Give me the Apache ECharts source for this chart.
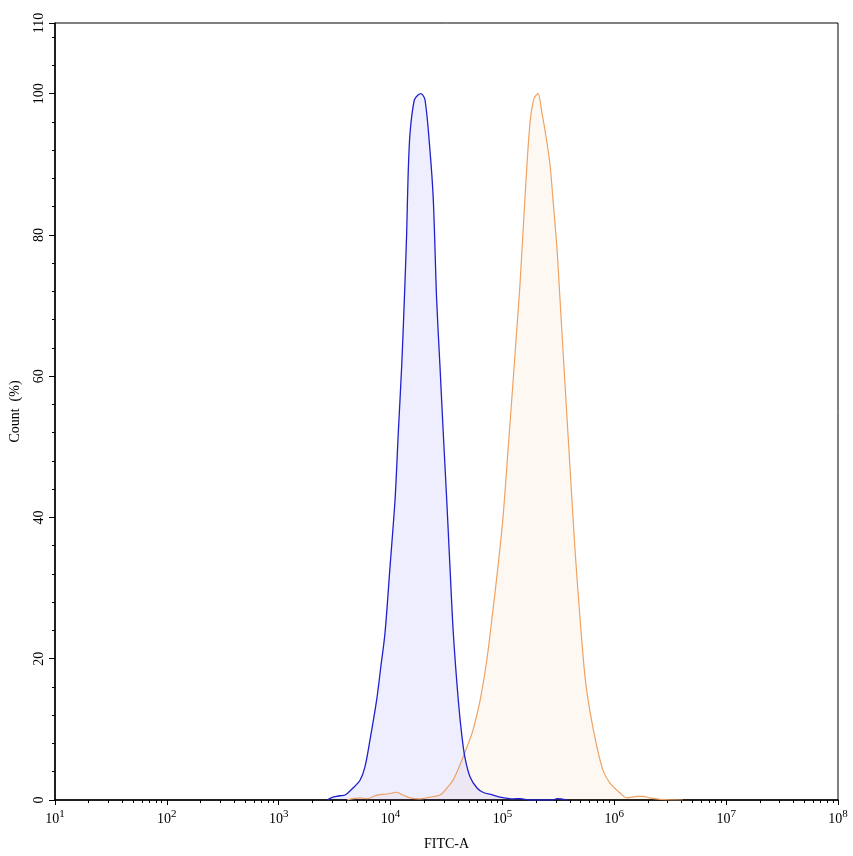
<!DOCTYPE html>
<html>
<head>
<meta charset="utf-8">
<title>FITC-A</title>
<script src="https://cdn.jsdelivr.net/npm/echarts@6/dist/echarts.min.js"></script>
<style>
html,body{margin:0;padding:0;background:#fff;}
#chart{width:853px;height:856px;}
</style>
</head>
<body>
<div id="chart"></div>
<script>
// log10(FITC-A) positions and count (%)
var blueX = [3.432,3.485,3.548,3.593,3.664,3.727,3.771,3.816,3.876,3.914,3.950,3.995,4.040,4.069,4.099,4.123,4.144,4.156,4.174,4.212,4.245,4.272,4.308,4.352,4.382,4.412,4.442,4.471,4.502,4.531,4.561,4.605,4.638,4.665,4.710,4.773,4.826,4.916,4.978,5.094,5.157,5.246,5.336,5.452,5.488,5.577];
var blueY = [0,0.4,0.6,0.7,1.7,2.8,4.7,8.5,14.2,19,23.6,33,42.5,52,61.3,70.8,80.3,88,94.4,99.1,99.8,100,99.1,92,85,70.8,61.3,52,42.5,33,23.6,14.2,9,6,3.3,1.7,1.1,0.7,0.4,0.15,0.2,0,0,0,0.2,0];

var orangeX = [3.610,3.664,3.727,3.789,3.879,3.968,4.057,4.111,4.174,4.263,4.352,4.442,4.504,4.558,4.621,4.683,4.737,4.799,4.862,4.916,4.960,5.005,5.050,5.094,5.121,5.157,5.202,5.246,5.282,5.318,5.354,5.389,5.425,5.452,5.488,5.515,5.559,5.604,5.649,5.693,5.738,5.783,5.845,5.899,5.962,6.051,6.114,6.203,6.257,6.319,6.409,6.614];
var orangeY = [0,0.2,0.3,0.2,0.7,0.85,1.1,0.7,0.3,0.15,0.4,0.7,1.7,2.8,5,7.5,9.9,14,20,27,33,40,49.5,59,65,73,85.4,95.8,99.3,100,97.2,94,90,85,78,70.8,59,47.1,35.4,25.9,17.5,12.5,7.5,4.2,2.4,1,0.3,0.5,0.5,0.3,0.1,0];

var xTickExp = [1,2,3,4,5,6,7,8];
var yTickLabels = [0,20,40,60,80,100,110];

function pairs(xs, ys){
	var out = [];
	for (var i = 0; i < xs.length; i++) out.push([xs[i], ys[i]]);
	return out;
}

// minor ticks: 2..9 inside every decade, and every 4 % on the count axis
var xMinor = [];
for (var d = 1; d < 8; d++) {
	for (var k = 2; k <= 9; k++) xMinor.push(d + Math.log10(k));
}
var yMinor = [];
for (var v = 4; v < 110; v += 4) {
	if (v % 20 !== 0) yMinor.push(v);
}

var myChart = echarts.init(document.getElementById('chart'));
var serif = 'Liberation Serif';

var option = {
	backgroundColor: '#fff',
	animation: false,
	grid: {
		left: 55, right: 15, top: 23, bottom: 56,
		show: true, borderColor: '#000', borderWidth: 1,
		containLabel: false,
		outerBoundsMode: 'none'
	},
	xAxis: [{
		type: 'value', min: 1, max: 8,
		name: 'FITC-A', nameLocation: 'middle', nameGap: 37,
		nameTextStyle: { fontFamily: serif, fontSize: 14, color: '#000' },
		axisLine: { lineStyle: { color: '#000', width: 1.5 } },
		axisTick: { customValues: xTickExp, length: 5, lineStyle: { color: '#000' } },
		axisLabel: {
			customValues: xTickExp, margin: 9, color: '#000',
			fontFamily: serif, fontSize: 14,
			formatter: function(v){ return '10{s|' + v + '}'; },
			rich: { s: { fontFamily: serif, fontSize: 11, padding: [0, 0, 9, 0], color: '#000' } }
		},
		splitLine: { show: false }
	}, {
		type: 'value', min: 1, max: 8, position: 'bottom',
		axisLine: { show: false },
		axisTick: { customValues: xMinor, length: 3, lineStyle: { color: '#000' } },
		axisLabel: { show: false },
		splitLine: { show: false }
	}],
	yAxis: [{
		type: 'value', min: 0, max: 110,
		name: 'Count  (%)', nameLocation: 'middle', nameGap: 33, nameRotate: 90,
		nameTextStyle: { fontFamily: serif, fontSize: 14, color: '#000' },
		axisLine: { show: true, lineStyle: { color: '#000', width: 1.5 } },
		axisTick: { show: true, customValues: yTickLabels, length: 6, lineStyle: { color: '#000' } },
		axisLabel: {
			customValues: yTickLabels, rotate: 90, margin: 9, color: '#000',
			fontFamily: serif, fontSize: 14
		},
		splitLine: { show: false }
	}, {
		type: 'value', min: 0, max: 110, position: 'left',
		axisLine: { show: false },
		axisTick: { show: true, customValues: yMinor, length: 3, lineStyle: { color: '#000' } },
		axisLabel: { show: false },
		splitLine: { show: false }
	}],
	series: [{
		name: 'stained',
		type: 'line',
		smooth: 0.3,
		showSymbol: false,
		lineStyle: { color: '#eea263', width: 1.2 },
		areaStyle: { color: 'rgba(245,150,60,0.09)' },
		data: pairs(orangeX, orangeY)
	}, {
		name: 'control',
		type: 'line',
		smooth: 0.3,
		showSymbol: false,
		lineStyle: { color: '#2020cc', width: 1.3 },
		areaStyle: { color: 'rgba(20,20,250,0.1)' },
		data: pairs(blueX, blueY)
	}]
};
myChart.setOption(option);
</script>
</body>
</html>
